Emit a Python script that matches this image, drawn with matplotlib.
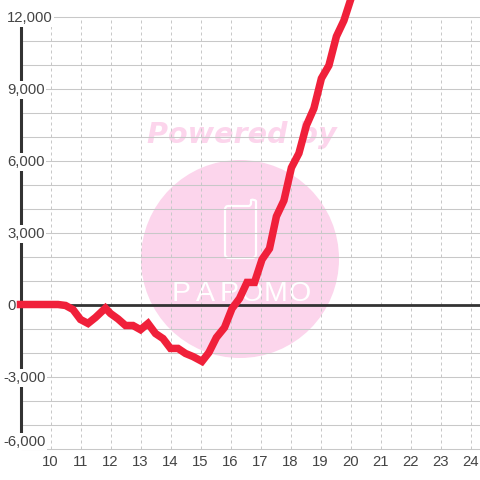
import matplotlib
matplotlib.use("Agg")
import matplotlib.pyplot as plt
from matplotlib.patches import Circle, PathPatch
from matplotlib.path import Path

hours = [9, 9.25, 9.5, 9.75, 10, 10.25, 10.5, 10.75, 11, 11.25, 11.5, 11.83, 12, 12.25, 12.5, 12.75,
         13, 13.25, 13.5, 13.75, 14, 14.25, 14.5, 14.75, 15.05, 15.28, 15.53, 15.8, 16.05, 16.3, 16.55,
         16.8, 17.05, 17.3, 17.53, 17.78, 18.03, 18.28, 18.53, 18.78, 19.03, 19.28, 19.53, 19.78, 20.03]
values = [0, 0, 0, 0, 0, 0, -40, -210, -625, -790, -540, -150, -375, -600, -875, -875,
          -1050, -790, -1210, -1420, -1830, -1830, -2040, -2170, -2370, -2000, -1375, -960, -170, 250, 920,
          920, 1875, 2330, 3670, 4330, 5700, 6300, 7460, 8170, 9420, 9960, 11170, 11830, 12800]

x_ticks = list(range(10, 25))
y_major = [-6000, -3000, 0, 3000, 6000, 9000, 12000]
y_grid = list(range(-6000, 13000, 1000))
y_labels = ["-6,000", "-3,000", "0", "3,000", "6,000", "9,000", "12,000"]

LINE = "#f0203a"
PINK = "#fcd5ec"
GRID = "#c8c8c8"
DARK = "#333333"
TEXT = "#444444"

fig = plt.figure(figsize=(4.8, 4.8), dpi=100, facecolor="white")

# watermark layer in pixel coordinates
bg = fig.add_axes([0, 0, 1, 1], zorder=0)
bg.set_xlim(0, 480)
bg.set_ylim(480, 0)
bg.axis("off")
bg.add_patch(Circle((240, 259), 99, facecolor=PINK, edgecolor="none"))
M, L, C = Path.MOVETO, Path.LINETO, Path.CURVE3
phone = Path(
    [(228, 206), (249, 206), (250, 206), (251, 204), (251, 200), (254, 199), (256, 201), (256, 254),
     (256, 258), (252, 258), (229, 258), (225, 258), (225, 254), (225, 210), (225, 206), (228, 206)],
    [M, L, C, C, L, C, C, L, C, C, L, C, C, L, C, C])
bg.add_patch(PathPatch(phone, facecolor="none", edgecolor="white", lw=1.6, joinstyle="round"))
bg.text(242, 135, "Powered by", color=PINK, fontsize=20.6, fontweight="bold", fontstyle="italic",
        family="DejaVu Sans", ha="center", va="center")
for cx, ch in zip([181, 205, 229, 252, 276, 300], "PAPOMO"):
    bg.text(cx, 301, ch, color="white", fontsize=20.5, family="Liberation Sans",
            ha="center", va="baseline")

# chart layer
ax = fig.add_axes([0, 31.5 / 480, 1, 448.5 / 480], zorder=1)
ax.patch.set_visible(False)
ax.set_xlim(10 - 50.5 / 30, 10 + 429.5 / 30)
ax.set_ylim(-6000, 12000 + 16.5 / 0.024)
for s in ax.spines.values():
    s.set_visible(False)

ax.hlines(y_grid, 9, ax.get_xlim()[1], color=GRID, lw=0.75, zorder=1, clip_on=False)
ax.vlines(x_ticks, -6000, 12000, color=GRID, lw=0.72, linestyles=(0, (3, 3)), zorder=1)
ax.vlines(9, -6000, 12000, color=DARK, lw=2.2, zorder=2)
ax.hlines(0, 9, ax.get_xlim()[1], color=DARK, lw=2.0, zorder=2)

ax.set_axisbelow(False)
ax.set_xticks(x_ticks)
ax.set_yticks(y_major, y_labels)
ax.tick_params(axis="x", length=0, pad=5, labelsize=10.7, labelcolor=TEXT)
ax.tick_params(axis="y", length=0, labelsize=10.7, labelcolor=TEXT)
for lab in ax.get_xticklabels():
    lab.set_family("Liberation Sans")
for tick, lab, name in zip(ax.yaxis.get_major_ticks(), ax.get_yticklabels(), y_labels):
    tick.set_pad(-(3 if name.startswith("-") else 7) * 0.72)
    lab.set_family("Liberation Sans")
    lab.set_ha("left")
    lab.set_va("bottom" if name == "-6,000" else "center_baseline")
    lab.set_bbox(dict(facecolor="white", edgecolor="none", pad=1.2))

ax.plot(hours, values, color=LINE, lw=5.4, solid_joinstyle="miter", solid_capstyle="projecting", zorder=3)

fig.savefig("out.png", dpi=100, facecolor="white")
